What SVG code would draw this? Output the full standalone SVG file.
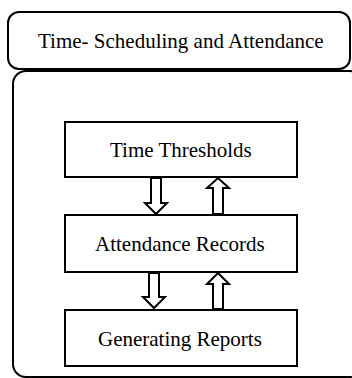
<svg xmlns="http://www.w3.org/2000/svg" width="352" height="378" viewBox="0 0 352 378">
  <!-- shared looks are set once on the parent groups and inherited -->
  <g fill="#fff" stroke="#000" stroke-width="2">
    <g id="title">
      <rect x="8" y="12" width="342" height="57" rx="11"/>
    </g>
    <g id="container">
      <rect x="13" y="71" width="350" height="306" rx="13"/>
    </g>
    <g id="time-thresholds">
      <rect x="65" y="122" width="232" height="55"/>
    </g>
    <g id="attendance-records">
      <rect x="65" y="215" width="232" height="57"/>
    </g>
    <g id="generating-reports">
      <rect x="65" y="310" width="232" height="56"/>
    </g>
    <g id="connectors" stroke-linejoin="miter">
      <!-- block arrows, down then up, between each pair of boxes -->
      <polygon points="151,178 161,178 161,203 167,203 156,214 145,203 151,203"/>
      <polygon points="213,214 223,214 223,188 229,188 218,178 207,188 213,188"/>
      <polygon points="149,273 159,273 159,297 165,297 154,308 143,297 149,297"/>
      <polygon points="213,309 223,309 223,284 229,284 218,273 207,284 213,284"/>
    </g>
  </g>
  <text x="38" y="48" font-size="21" font-family="'Liberation Serif', serif">Time- Scheduling and Attendance</text>
  <text x="110" y="157" font-size="21" font-family="'Liberation Serif', serif">Time Thresholds</text>
  <text x="95" y="251" font-size="21" font-family="'Liberation Serif', serif">Attendance Records</text>
  <text x="98" y="346" font-size="21" font-family="'Liberation Serif', serif">Generating Reports</text>
</svg>
